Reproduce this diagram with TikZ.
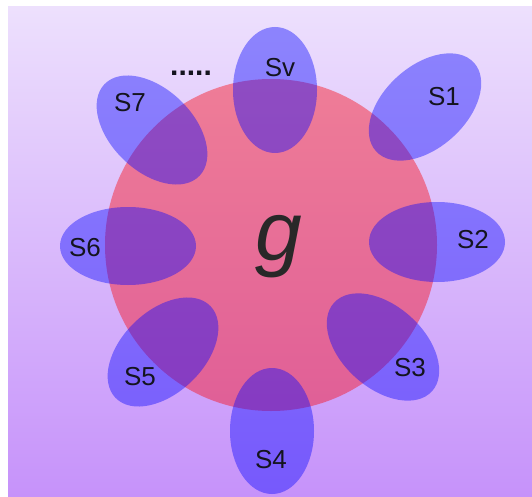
\documentclass[tikz,border=0pt]{standalone}
\usepackage{fontspec}
\setmainfont{Liberation Sans}
\usetikzlibrary{shapes.geometric}
\definecolor{bgtop}{RGB}{237,224,253}
\definecolor{bgbot}{RGB}{198,146,250}
\definecolor{gred}{RGB}{250,10,20}
\definecolor{sblue}{RGB}{10,10,255}
\definecolor{txt}{RGB}{20,20,30}
\begin{document}
\begin{tikzpicture}[x=1pt,y=-1pt,
  petal/.style={ellipse, fill=sblue, fill opacity=0.42, draw=none, inner sep=0pt,
    minimum width=132pt, minimum height=82pt},
  lbl/.style={text=txt, inner sep=0pt, font=\fontsize{26}{30}\selectfont}]
\useasboundingbox (0,0) rectangle (532,497);
\fill[white] (0,0) rectangle (532,497);
\shade[top color=bgtop, bottom color=bgbot] (8,7) rectangle (532,497);
% main circle
\node[circle, fill=gred, fill opacity=0.43, draw=none, minimum size=332pt, inner sep=0pt] (G) at (271,245) {};
% petals
\node[petal, minimum width=84pt, minimum height=126pt] (Pv) at (275,90) {};
\node[petal, rotate=42] (P1) at (425,107) {};
\node[petal, minimum width=136pt, minimum height=80pt] (P2) at (437,242) {};
\node[petal, rotate=-42] (P3) at (383,347) {};
\node[petal, minimum width=84pt, minimum height=126pt] (P4) at (272,431) {};
\node[petal, rotate=44] (P5) at (163,352) {};
\node[petal, minimum width=136pt, minimum height=78pt] (P6) at (128,246) {};
\node[petal, rotate=-44] (P7) at (152,130) {};
% labels
\node[lbl] (Lv) at (280,68) {Sv};
\node[lbl] (L1) at (444,97) {S1};
\node[lbl] (L2) at (473,240) {S2};
\node[lbl] (L3) at (410,368) {S3};
\node[lbl] (L4) at (271,460) {S4};
\node[lbl] (L5) at (140,377) {S5};
\node[lbl] (L6) at (85,248) {S6};
\node[lbl] (L7) at (130,103) {S7};
\node[lbl, font=\fontsize{30}{30}\selectfont\bfseries, anchor=base] (dots) at (191,76) {.....};
\node[text={rgb,255:red,40;green,40;blue,40}, inner sep=0pt, font=\fontsize{84}{90}\selectfont\itshape] (g) at (279,247) {g};
\end{tikzpicture}
\end{document}
